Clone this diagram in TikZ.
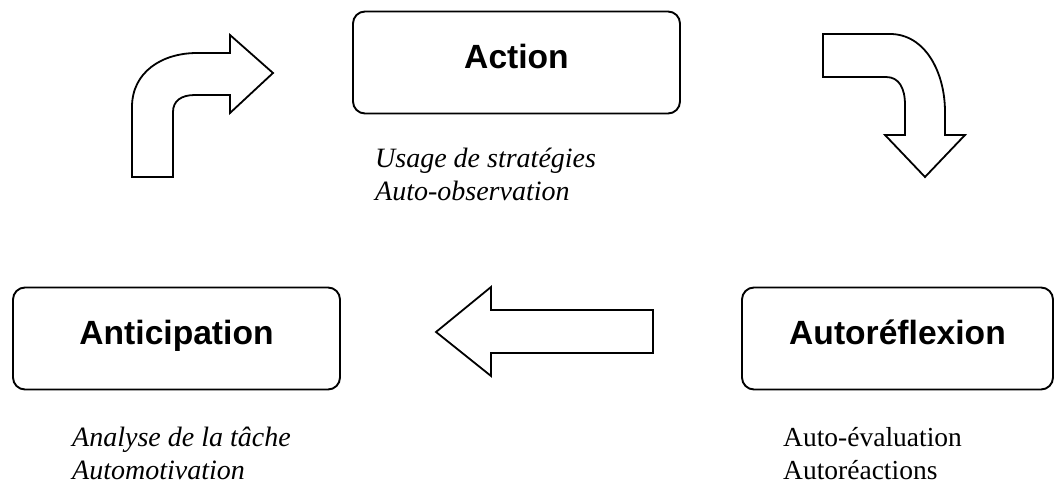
\documentclass[tikz,border=0pt]{standalone}
\usepackage{fontspec}
\setmainfont{Liberation Serif}
\setsansfont{Liberation Sans}
\begin{document}
\begin{tikzpicture}[x=1pt, y=-1pt,
        phase/.style={draw, line width=1.9pt, rounded corners=12pt, inner sep=0pt,
            minimum width=327pt, minimum height=102pt, text height=24pt, text depth=12pt,
            font=\sffamily\bfseries\fontsize{33.6}{36}\selectfont},
        sub/.style={anchor=north west, inner sep=0pt, align=left, font=\fontsize{27.5}{33}\selectfont},
        bigarrow/.style={draw, line width=1.8pt, line join=miter, fill=white}]
                \useasboundingbox (0,0) rectangle (1054,486);
                \node[phase] (action) at (516.5,62.5) {Action};
                \node[phase] (anticipation) at (176.5,338.5) {Anticipation};
                \node[phase, minimum width=311pt] (autoreflexion) at (897.5,338.5) {Autoréflexion};
                \node[sub, font=\itshape\fontsize{28}{33}\selectfont] (action-sub) at (375,148) {Usage de stratégies\\Auto-observation};
                \node[sub, font=\itshape\fontsize{28}{33}\selectfont] (anticipation-sub) at (72,427) {Analyse de la tâche\\Automotivation};
                \node[sub] (autoreflexion-sub) at (783,427) {Auto-évaluation\\Autoréactions};
                % arrows of the cycle
                \draw[bigarrow] (132,177) -- (132,107) .. controls (132,72) and (162,53) .. (197,53) -- (230,53) -- (230,35) -- (273,73) -- (230,113) -- (230,95) -- (195,95) .. controls (181,95) and (173,101) .. (173,112) -- (173,177) -- cycle;
                \draw[bigarrow] (823,34) -- (890,34) .. controls (925,34) and (945,72) .. (945,112) -- (945,135) -- (965,135) -- (925,177) -- (885,135) -- (905,135) -- (905,105) .. controls (905,88) and (899,77) .. (886,77) -- (823,77) -- cycle;
                \draw[bigarrow] (436,332) -- (491,287) -- (491,310) -- (653,310) -- (653,353) -- (491,353) -- (491,376) -- cycle;
            \end{tikzpicture}
\end{document}
